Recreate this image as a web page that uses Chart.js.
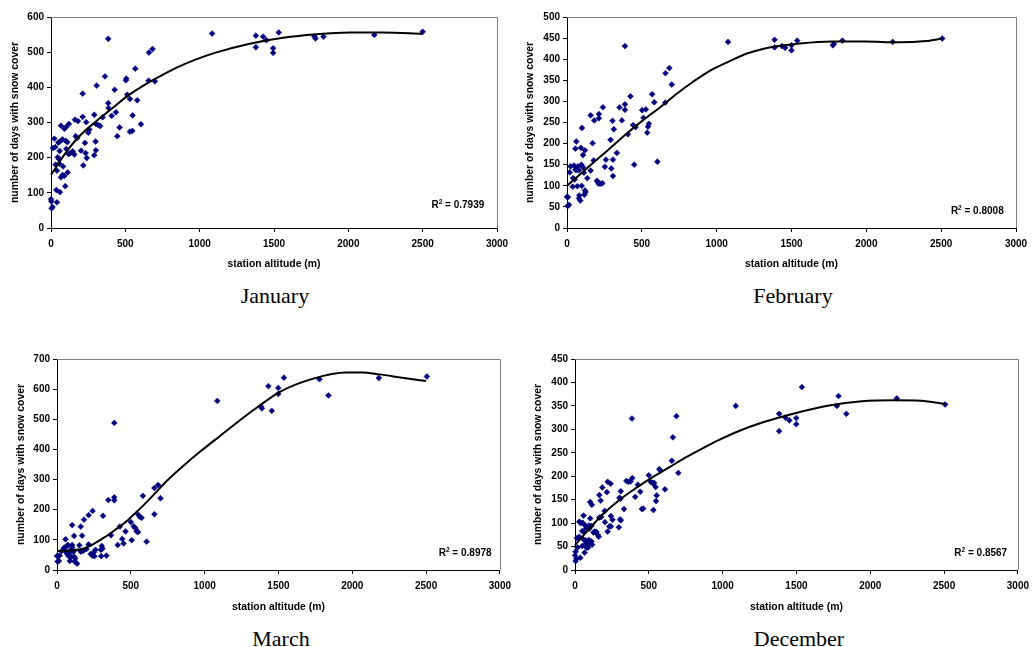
<!DOCTYPE html>
<html><head><meta charset="utf-8">
<script src="https://cdn.jsdelivr.net/npm/chart.js@4.4.1/dist/chart.umd.min.js"></script>
<style>
html,body{margin:0;padding:0;background:#fff;width:1035px;height:647px;overflow:hidden;position:relative;}
canvas{position:absolute;}
.cap{position:absolute;font-family:"Liberation Serif","Times New Roman",serif;font-size:22px;line-height:22px;color:#000;text-align:center;width:240px;}
</style></head><body>
<canvas id="c1" width="517" height="278" style="left:0;top:0"></canvas>
<canvas id="c2" width="518" height="278" style="left:517px;top:0"></canvas>
<canvas id="c3" width="517" height="292" style="left:0;top:330px"></canvas>
<canvas id="c4" width="518" height="292" style="left:517px;top:330px"></canvas>
<div class="cap" id="cap1" style="left:155px;top:285px"></div>
<div class="cap" id="cap2" style="left:673px;top:285px"></div>
<div class="cap" id="cap3" style="left:161px;top:628px"></div>
<div class="cap" id="cap4" style="left:679px;top:628px"></div>
<script>
// ---------------- data ----------------
const months = ['January', 'February', 'March', 'December'];
const xTitle = 'station altitude (m)';
const yTitle = 'number of days with snow cover';
const r2Values = ['0.7939', '0.8008', '0.8978', '0.8567'];
const xMax = 3000, xStep = 500;
const yMaxes = [600, 500, 700, 450];
const ySteps = [100, 50, 100, 50];

const janAlt = [385,1084,659,683,567,363,504,506,656,699,307,428,213,513,531,580,385,387,437,291,408,549,347,161,181,213,237,605,302,316,331,121,101,67,90,461,547,531,258,251,446,166,177,300,228,22,60,78,99,110,49,202,302,13,29,58,103,146,119,130,157,233,291,45,54,240,31,56,81,217,40,112,78,67,90,96,36,60,40,0,2,4,10,1378,1378,1427,1449,1494,1494,1532,1772,1779,1833,2175,2500];
const janDays = [538,553,499,509,453,431,420,425,419,417,405,393,382,379,367,363,355,341,329,322,319,320,315,308,304,316,301,295,296,293,290,296,287,291,282,286,276,274,280,271,261,261,256,246,242,254,246,252,248,244,243,220,221,227,230,219,225,218,210,213,209,213,207,201,196,199,180,183,175,178,163,158,151,144,148,119,108,102,73,82,76,56,60,547,514,544,534,511,498,556,545,539,544,549,558];
const janTrendAlt = [0,94,184,296,408,520,632,744,856,967,1102,1337,1561,1785,2009,2233,2500];
const janTrendDays = [151,211,258,301,339,377,408,434,458,478,498,524,541,551,556,556,552];

const febAlt = [387,1076,684,658,700,569,424,240,351,387,387,583,656,502,527,511,547,541,536,304,313,367,158,182,213,213,442,458,407,100,171,291,62,56,120,107,93,178,260,307,333,253,296,307,449,604,200,211,222,236,207,18,24,47,73,96,107,56,67,80,40,51,113,136,158,38,69,98,120,124,116,82,89,80,0,6,4,13,1387,1387,1436,1458,1500,1500,1538,1776,1783,1840,2176,2507];
const febDays = [431,441,379,367,340,317,312,286,286,293,280,298,297,279,281,261,247,240,226,254,234,255,267,255,270,260,244,239,222,237,201,209,205,188,184,173,190,160,162,162,178,145,141,123,150,157,112,105,105,106,109,132,146,148,146,150,144,138,137,137,118,115,131,118,136,98,99,100,89,85,79,77,65,70,74,73,52,55,446,428,431,427,433,421,444,433,436,444,441,449];
const febTrendAlt = [0,173,284,396,507,618,729,840,951,1084,1207,1387,1547,1769,1991,2213,2400,2507];
const febTrendDays = [100,154,188,223,255,285,317,346,372,395,414,430,437,442,442,440,443,449];

const marAlt = [1086,388,660,685,701,582,388,388,348,241,214,312,183,161,103,170,116,58,366,426,464,500,520,531,540,549,551,562,573,660,607,442,451,411,506,335,303,308,297,299,228,239,248,254,261,214,199,176,161,152,103,103,49,62,74,83,94,112,71,80,98,116,123,87,136,120,4,0,18,13,4,31,54,1383,1388,1432,1455,1499,1499,1537,1778,1839,2180,2506];
const marDays = [561,488,272,282,238,246,241,231,232,196,182,180,167,144,149,114,113,102,115,144,128,159,145,139,128,126,183,176,173,185,94,103,88,83,99,48,80,71,67,46,53,48,58,46,67,85,69,63,61,82,75,83,74,78,83,63,62,61,52,46,44,44,38,30,21,28,47,46,48,30,28,63,63,542,536,610,528,604,584,638,633,579,637,642];
const marTrendAlt = [0,76,188,254,321,388,455,522,589,656,745,857,968,1102,1290,1357,1513,1736,1959,2070,2182,2338,2500];
const marTrendDays = [63,64,72,88,108,131,155,185,216,250,296,346,392,444,516,540,592,635,655,655,649,638,627];

const decAlt = [1089,386,687,663,656,700,571,580,500,513,527,536,546,609,553,549,531,453,462,426,442,408,388,377,348,362,310,301,308,332,306,310,297,221,241,185,216,174,165,103,114,201,243,254,232,243,221,178,203,165,161,154,145,134,103,58,29,38,51,69,76,94,96,111,125,138,49,58,13,29,58,73,94,111,73,89,98,49,78,89,116,65,18,4,0,9,4,36,1383,1383,1425,1452,1499,1499,1537,1774,1785,1838,2180,2507];
const decDays = [350,323,328,283,233,207,215,212,202,188,185,186,177,172,159,147,128,130,131,182,167,156,196,189,190,188,168,154,152,130,108,106,91,188,184,176,166,148,160,145,139,126,115,107,93,93,82,113,102,112,71,75,81,82,110,116,103,100,101,95,89,95,88,94,80,81,83,82,68,71,65,63,64,61,56,53,56,51,48,48,54,37,48,39,31,24,19,26,333,296,325,319,324,311,390,350,371,333,366,353];
const decTrendAlt = [0,80,192,303,415,526,638,750,861,973,1107,1274,1497,1720,1943,2166,2344,2507];
const decTrendDays = [53,82,120,150,175,198,219,240,259,277,296,315,335,351,360,362,361,354];

// ---------------- layout / style ----------------
const FONT = '"Liberation Sans", Arial, Helvetica, sans-serif';
const XH = 45;
const panels = [
  {id:'c1', L:0,   T:0,   W:517, H:278, al:51,  at:17,  ar:497,  ab:228, yTitleC:14.7, xTitleC:264, r2dx:12.7, r2dy:24,
   alt:janAlt, days:janDays, tAlt:janTrendAlt, tDays:janTrendDays, k:0},
  {id:'c2', L:517, T:0,   W:518, H:278, al:567, at:17,  ar:1016, ab:228, yTitleC:13,   xTitleC:264, r2dx:12.3, r2dy:18,
   alt:febAlt, days:febDays, tAlt:febTrendAlt, tDays:febTrendDays, k:1},
  {id:'c3', L:0,   T:330, W:517, H:292, al:57,  at:359, ar:505,  ab:570, yTitleC:20.7, xTitleC:607, r2dx:8.3,  r2dy:18,
   alt:marAlt, days:marDays, tAlt:marTrendAlt, tDays:marTrendDays, k:2},
  {id:'c4', L:517, T:330, W:518, H:292, al:575, at:359, ar:1023, ab:570, yTitleC:21.3, xTitleC:607, r2dx:10.7, r2dy:18,
   alt:decAlt, days:decDays, tAlt:decTrendAlt, tDays:decTrendDays, k:3}
];

const framePlugin = {
  id: 'frame',
  beforeDatasetsDraw(chart) {
    const {ctx, chartArea: a} = chart;
    ctx.save();
    ctx.strokeStyle = '#808080';
    ctx.lineWidth = 1;
    const t = Math.round(a.top) + 0.5, r = Math.round(a.right) + 0.5;
    ctx.beginPath();
    ctx.moveTo(Math.round(a.left), t);
    ctx.lineTo(r, t);
    ctx.lineTo(r, Math.round(a.bottom));
    ctx.stroke();
    ctx.restore();
  }
};

const r2Plugin = {
  id: 'r2',
  afterDatasetsDraw(chart, args, opts) {
    const {ctx, chartArea: a} = chart;
    ctx.save();
    ctx.fillStyle = '#000';
    ctx.textBaseline = 'alphabetic';
    ctx.textAlign = 'left';
    const big = 'bold 10px ' + FONT, small = 'bold 6.5px ' + FONT;
    ctx.font = big;
    const wR = ctx.measureText('R').width;
    const rest = ' = ' + opts.value;
    const wRest = ctx.measureText(rest).width;
    ctx.font = small;
    const w2 = ctx.measureText('2').width;
    const total = wR + w2 + wRest;
    let x = a.right - opts.dx - total;
    const base = a.bottom - opts.dy + 3.6;
    ctx.font = big;
    ctx.fillText('R', x, base);
    x += wR;
    ctx.font = small;
    ctx.fillText('2', x, base - 4);
    x += w2;
    ctx.font = big;
    ctx.fillText(rest, x, base);
    ctx.restore();
  }
};

function makeChart(p) {
  const points = p.alt.map((x, i) => ({x, y: p.days[i]}));
  const trend = p.tAlt.map((x, i) => ({x, y: p.tDays[i]}));
  const lh = 10.4 * 1.2;
  const xBottom = p.ab + XH;
  new Chart(document.getElementById(p.id), {
    type: 'scatter',
    data: {datasets: [
      {data: trend, showLine: true, borderColor: '#000', borderWidth: 2, pointRadius: 0,
       cubicInterpolationMode: 'monotone', clip: false, fill: false},
      {data: points, showLine: false, pointStyle: 'rectRot', pointRadius: 2.9,
       backgroundColor: '#000080', borderColor: '#000080', borderWidth: 0.6, clip: false}
    ]},
    options: {
      responsive: false, animation: false, events: [],
      layout: {padding: {left: 0, top: p.at - p.T, right: p.L + p.W - p.ar, bottom: p.T + p.H - p.ab - XH}},
      plugins: {legend: {display: false}, tooltip: {enabled: false},
                r2: {value: r2Values[p.k], dx: p.r2dx, dy: p.r2dy}},
      scales: {
        x: {
          type: 'linear', position: 'bottom', min: 0, max: xMax,
          ticks: {stepSize: xStep, autoSkip: false, maxRotation: 0, color: '#000', padding: 6,
                  font: {family: FONT, weight: 'bold', size: 10}, callback: v => String(v)},
          grid: {drawOnChartArea: false, drawTicks: true, tickLength: 4, color: '#000', lineWidth: 1},
          border: {display: true, color: '#000', width: 1},
          title: {display: true, text: xTitle, color: '#000',
                  font: {family: FONT, weight: 'bold', size: 10.4},
                  padding: {top: 0, bottom: xBottom - lh / 2 - p.xTitleC}},
          afterFit(s) { s.height = XH; }
        },
        y: {
          type: 'linear', position: 'left', min: 0, max: yMaxes[p.k],
          ticks: {stepSize: ySteps[p.k], autoSkip: false, color: '#000', padding: 3,
                  font: {family: FONT, weight: 'bold', size: 10}, callback: v => String(v)},
          grid: {drawOnChartArea: false, drawTicks: true, tickLength: 4, color: '#000', lineWidth: 1},
          border: {display: true, color: '#000', width: 1},
          title: {display: true, text: yTitle, color: '#000',
                  font: {family: FONT, weight: 'bold', size: 10.4},
                  padding: {top: p.yTitleC - lh / 2, bottom: 0}},
          afterFit(s) { s.width = p.al - p.L; }
        }
      }
    },
    plugins: [framePlugin, r2Plugin]
  });
}

panels.forEach(makeChart);
months.forEach((m, i) => { document.getElementById('cap' + (i + 1)).textContent = m; });
</script>
</body></html>
